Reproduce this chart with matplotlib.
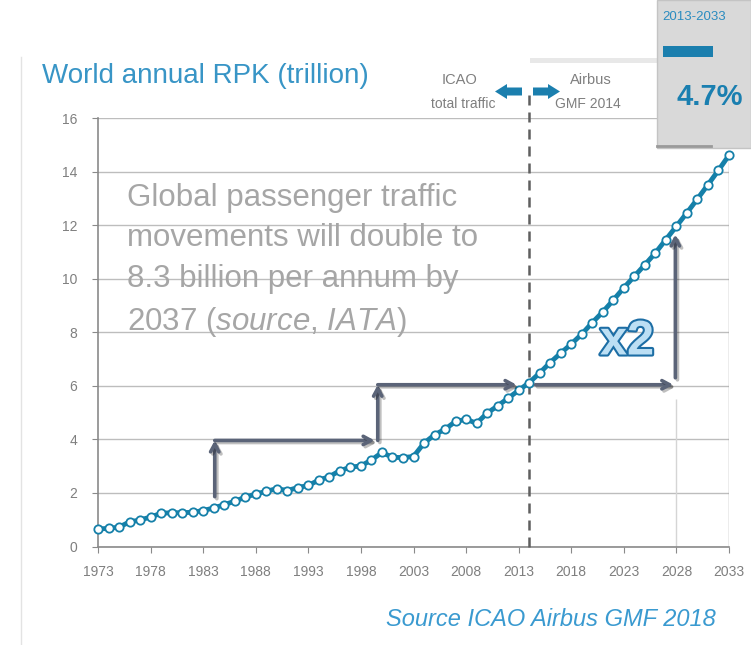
import matplotlib
matplotlib.use('Agg')
import matplotlib.pyplot as plt
import matplotlib.patheffects as pe
from matplotlib.patches import Rectangle, Polygon
from matplotlib.lines import Line2D

# World annual RPK (trillion), ICAO history + Airbus GMF forecast
years = list(range(1973, 2034))
rpk = [0.65, 0.68, 0.72, 0.92, 0.99, 1.10, 1.24, 1.26, 1.26, 1.28,
       1.34, 1.44, 1.56, 1.69, 1.84, 1.96, 2.06, 2.16, 2.09, 2.20,
       2.28, 2.48, 2.61, 2.83, 2.96, 3.01, 3.23, 3.51, 3.33, 3.32,
       3.36, 3.86, 4.17, 4.38, 4.67, 4.75, 4.60, 4.98, 5.25, 5.54,
       5.83, 6.12, 6.48, 6.87, 7.22, 7.56, 7.93, 8.36, 8.76, 9.20,
       9.66, 10.09, 10.52, 10.96, 11.46, 11.96, 12.46, 12.98, 13.51, 14.05,
       14.61]
xticks = list(range(1973, 2034, 5))
yticks = list(range(0, 17, 2))
split_year = 2014

plt.rcParams['font.family'] = ['Liberation Sans', 'DejaVu Sans']
plt.rcParams['mathtext.fontset'] = 'custom'
plt.rcParams['mathtext.rm'] = 'Liberation Sans'
plt.rcParams['mathtext.it'] = 'Liberation Sans:italic'
narrow = ['Liberation Sans Narrow', 'Liberation Sans', 'DejaVu Sans']

teal = '#1580a9'
blue_txt = '#3895c6'
grey_txt = '#7f7f7f'
arrow_col = '#5b6478'

W, H = 751, 645
fig = plt.figure(figsize=(W / 100, H / 100), dpi=100)


def fx(x):
    return x / W


def fy(y):
    return 1 - y / H


ax = fig.add_axes([fx(98), fy(546.5), (729 - 98) / W, (546.5 - 118) / H])

# main curve
ax.plot(years, rpk, color=teal, lw=3.5, marker='o', ms=6, mfc='white',
        mec=teal, mew=1.3, clip_on=False, zorder=5)

ax.set_xlim(1973, 2033)
ax.set_ylim(0, 16)
ax.set_xticks(xticks)
ax.set_yticks(yticks)
ax.yaxis.grid(True, color='#bdbdbd', lw=1)
ax.set_axisbelow(True)
for s in ['top', 'right']:
    ax.spines[s].set_visible(False)
for s in ['left', 'bottom']:
    ax.spines[s].set_color('#8a8a8a')
    ax.spines[s].set_linewidth(1.2)
ax.tick_params(axis='both', colors='#8a8a8a', labelcolor=grey_txt,
               labelsize=10, length=4)
ax.tick_params(axis='x', pad=9)
ax.tick_params(axis='y', pad=11)
for lbl in ax.get_xticklabels() + ax.get_yticklabels():
    lbl.set_fontfamily(narrow)

# ICAO / Airbus split
ax.axvline(split_year, ymin=0, ymax=17.05 / 16, color='#5f5f5f', lw=1.8,
           dashes=(4, 2.8), clip_on=False, zorder=4)
ax.vlines(2033, 0, 14.6, color='#a0a0a0', lw=1, zorder=1)
ax.vlines(2028, 0, 5.5, color='#d5d5d5', lw=1, zorder=1)

# doubling arrows
shadow = [pe.SimpleLineShadow(offset=(1.5, -1.5), alpha=0.25), pe.Normal()]


def arrow(x0, y0, x1, y1):
    ax.annotate('', xy=(x1, y1), xytext=(x0, y0),
                arrowprops=dict(arrowstyle='->,head_length=0.55,head_width=0.3',
                                color=arrow_col, lw=2.6, shrinkA=0, shrinkB=0,
                                path_effects=shadow), zorder=6)


arrow(1984.1, 1.86, 1984.1, 3.96)
arrow(1984.1, 3.96, 1999.3, 3.96)
arrow(1999.6, 3.96, 1999.6, 6.04)
arrow(1999.6, 6.04, 2012.8, 6.04)
arrow(2014.6, 6.04, 2027.7, 6.04)
arrow(2027.9, 6.3, 2027.9, 11.65)

fig.text(fx(627), fy(342), 'x2', ha='center', va='center', fontsize=35,
         weight='bold', color='#bcdff4', family=narrow, zorder=7,
         path_effects=[pe.Stroke(linewidth=3, foreground='#1d6ea5'), pe.Normal()])

# big grey statement
fig.text(fx(127), fy(183), 'Global passenger traffic\nmovements will double to\n'
         '8.3 billion per annum by\n2037 ($\\it{source}$, $\\it{IATA}$)',
         ha='left', va='top', fontsize=22.5, color='#a6a6a6', linespacing=1.45)

# title and source
fig.text(fx(42), fy(76), 'World annual RPK (trillion)', ha='left', va='center',
         fontsize=20, color=blue_txt)
fig.text(fx(716), fy(619), 'Source ICAO Airbus GMF 2018', ha='right',
         va='center', style='italic', fontsize=17, color='#3a9ad0')

# left slide border
fig.add_artist(Line2D([fx(21), fx(21)], [fy(57), fy(645)], color='#e3e3e3', lw=1))

# ICAO / Airbus legend
fig.add_artist(Rectangle((fx(530), fy(63)), (657 - 530) / W, 5 / H,
                         facecolor='#e8e8e8', edgecolor='none'))
fig.text(fx(459), fy(80), 'ICAO', ha='center', va='center', fontsize=10.5,
         color=grey_txt, family=narrow)
fig.text(fx(463), fy(104), 'total traffic', ha='center', va='center',
         fontsize=10, color=grey_txt, family=narrow)
fig.text(fx(591), fy(80), 'Airbus', ha='center', va='center', fontsize=10.5,
         color=grey_txt, family=narrow)
fig.text(fx(588), fy(104), 'GMF 2014', ha='center', va='center', fontsize=10,
         color=grey_txt, family=narrow)
left_arrow = [(495, 91.5), (507, 84), (507, 87.5), (522, 87.5), (522, 95.5),
              (507, 95.5), (507, 99)]
right_arrow = [(560, 91.5), (548, 84), (548, 87.5), (533, 87.5), (533, 95.5),
               (548, 95.5), (548, 99)]
for pts in [left_arrow, right_arrow]:
    fig.add_artist(Polygon([(fx(a), fy(b)) for a, b in pts], closed=True,
                           facecolor='#1b7fae', edgecolor='none'))

# growth-rate box
fig.add_artist(Rectangle((fx(657), fy(148)), (751 - 657) / W, 148 / H,
                         facecolor='#d9d9d9', edgecolor='#c4c4c4', lw=1))
fig.add_artist(Line2D([fx(657), fx(711)], [fy(146), fy(146)],
                      color='#9a9a9a', lw=2))
fig.add_artist(Rectangle((fx(663), fy(57)), 50 / W, 11 / H,
                         facecolor='#1b7fae', edgecolor='none'))
fig.text(fx(662), fy(17), '2013-2033', ha='left', va='center', fontsize=9.5,
         color='#2b8cc0', family=narrow)
fig.text(fx(743), fy(97), '4.7%', ha='right', va='center', fontsize=21,
         weight='bold', color='#1a7fb0', family=narrow)

fig.savefig('out.png', dpi=100)
